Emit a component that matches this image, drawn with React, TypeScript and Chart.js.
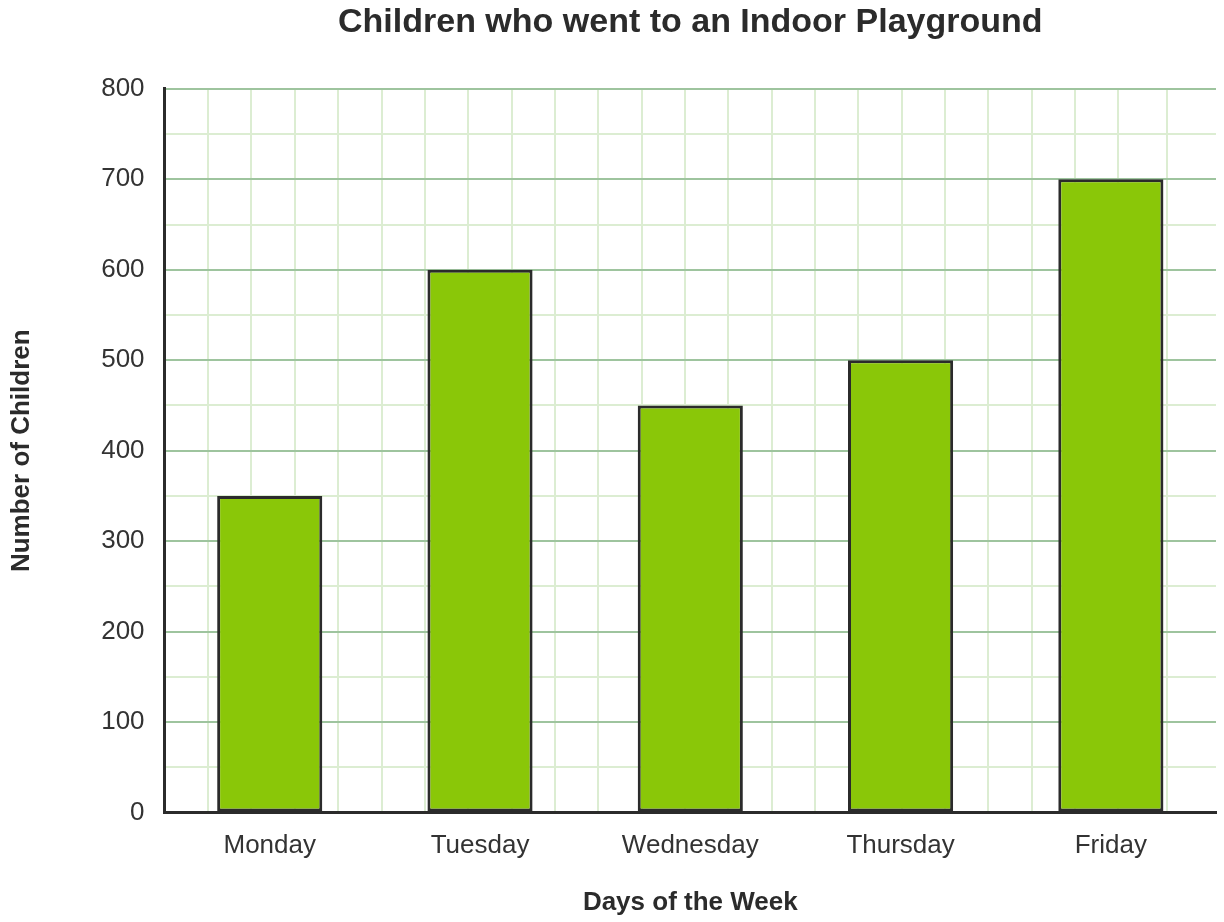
import React, { useEffect, useRef } from "react";
import { Chart, registerables } from "chart.js";

Chart.register(...registerables);

const days = ["Monday", "Tuesday", "Wednesday", "Thursday", "Friday"];
const children = [350, 600, 450, 500, 700];
const yMin = 0;
const yMax = 800;
const yStep = 50;
const yLabelStep = 100;
const gridColumns = 23.25;

export default function App() {
  const ref = useRef<HTMLCanvasElement | null>(null);
  useEffect(() => {
    document.body.style.margin = "0";
    if (!ref.current) return;
    const font = "'Liberation Sans', Arial, sans-serif";
    const chart = new Chart(ref.current, {
      type: "bar",
      data: {
        labels: days,
        datasets: [
          {
            data: children,
            backgroundColor: "#8AC708",
            borderColor: "#2B2B2B",
            borderWidth: 3,
            borderSkipped: false,
            barPercentage: 0.5,
            categoryPercentage: 1,
          },
        ],
      },
      options: {
        animation: false,
        responsive: false,
        maintainAspectRatio: false,
        layout: { padding: { left: 0, right: 8, top: 0, bottom: 4 } },
        plugins: {
          legend: { display: false },
          tooltip: { enabled: false },
          title: {
            display: true,
            text: "Children who went to an Indoor Playground",
            color: "#2B2B2B",
            font: { family: font, size: 34, weight: "bold" },
            fullSize: false,
            padding: { top: 2, bottom: 46 },
          },
        },
        scales: {
          x: {
            type: "category",
            grid: { display: false, drawTicks: false },
            border: { display: true, color: "#2B2B2B", width: 3 },
            ticks: {
              color: "#333333",
              font: { family: font, size: 26 },
              padding: 18,
            },
            title: {
              display: true,
              text: "Days of the Week",
              color: "#2B2B2B",
              font: { family: font, size: 26, weight: "bold" },
              padding: { top: 7, bottom: 0 },
            },
          },
          x2: {
            type: "linear",
            position: "top",
            display: true,
            min: 0,
            max: gridColumns,
            ticks: { display: false, stepSize: 1 },
            grid: { color: "#DCEDD2", lineWidth: 2, drawTicks: false },
            border: { display: false },
          },
          y: {
            type: "linear",
            min: yMin,
            max: yMax,
            ticks: {
              stepSize: yStep,
              color: "#333333",
              font: { family: font, size: 26 },
              padding: 20,
              callback: (v: any) => (Number(v) % yLabelStep === 0 ? String(v) : ""),
            },
            grid: {
              drawTicks: false,
              lineWidth: 2,
              color: (ctx: any) =>
                ctx.tick && ctx.tick.value % yLabelStep === 0 ? "#9EC49E" : "#DCEDD2",
            },
            border: { display: true, color: "#2B2B2B", width: 3 },
            title: {
              display: true,
              text: "Number of Children",
              color: "#2B2B2B",
              font: { family: font, size: 26, weight: "bold" },
              padding: { top: 6, bottom: 44 },
            },
          },
        },
      },
    });
    return () => chart.destroy();
  }, []);
  return <canvas ref={ref} width={1224} height={922} style={{ display: "block" }} />;
}
